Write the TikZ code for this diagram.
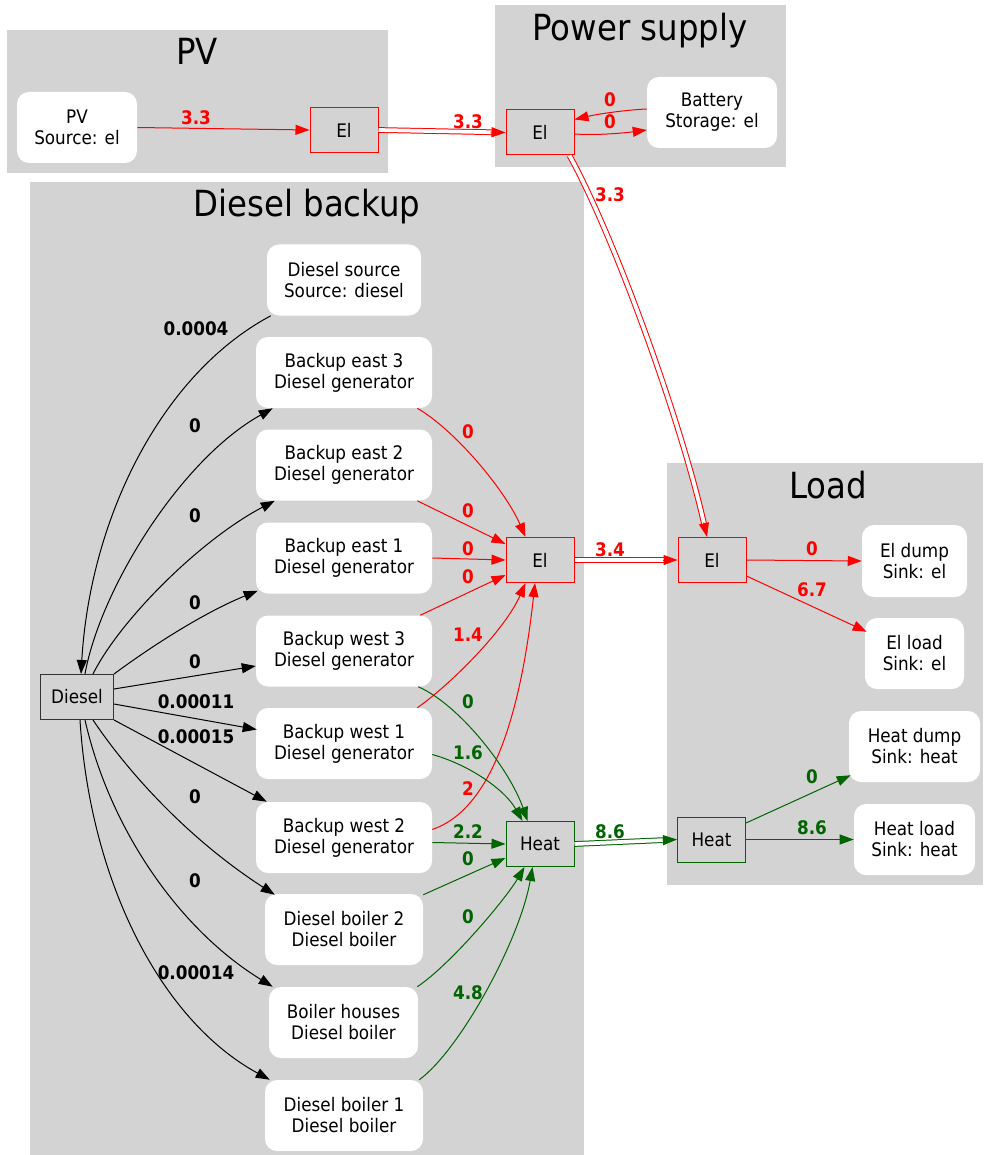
\documentclass[tikz,border=0pt]{standalone}
\usepackage{fontspec}
\setmainfont{DejaVu Sans Condensed}
\usetikzlibrary{arrows.meta,calc}
\definecolor{clustergray}{HTML}{D3D3D3}
\definecolor{heatgreen}{HTML}{006400}
\definecolor{elred}{HTML}{FF0000}

\begin{document}
\begin{tikzpicture}[x=0.75pt,y=-0.75pt,
  ctitle/.style={font=\fontsize{27}{30}\selectfont, inner sep=0pt, anchor=base},
  proc/.style={fill=white, rounded corners=9pt, align=center, inner sep=0pt,
    minimum height=53.25pt, minimum width=#1*0.75pt,
    font=\fontsize{14}{15.75}\selectfont},
  bus/.style={draw=#1, fill=clustergray, line width=0.75pt, inner sep=0pt,
    minimum width=51pt, minimum height=33.75pt, font=\fontsize{14}{16}\selectfont},
  flow/.style={draw=#1, line width=0.75pt, -{Triangle[length=10.5pt,width=7.5pt]}},
  dbl/.style={draw=#1, line width=0.75pt, double=white, double distance=2.8pt,
    shorten >=9.8pt},
  val/.style={text=#1, font=\fontsize{14}{16}\selectfont\bfseries, inner sep=0pt},
]
\useasboundingbox (0,0) rectangle (983,1155);

% cluster backgrounds
\fill[clustergray] (7,30) rectangle (388,173);
\fill[clustergray] (495,5) rectangle (786,167);
\fill[clustergray] (30,182) rectangle (584,1155);
\fill[clustergray] (667,463) rectangle (983,885);

\node[ctitle] (tpv) at (197,65) {PV};
\node[ctitle] (tps) at (640,41) {Power supply};
\node[ctitle] (tdb) at (307,217) {Diesel backup};
\node[ctitle] (tld) at (828,498) {Load};

% PV and power supply
\node[proc=120] (pvsrc) at (77,127.5) {PV\\Source: el};
\node[bus=elred] (pvel) at (344,130) {El};
\node[bus=elred] (psel) at (540,132.5) {El};
\node[proc=130] (bat) at (712,112.5) {Battery\\Storage: el};

% diesel backup
\node[proc=154] (dsrc) at (344,280) {Diesel source\\Source: diesel};
\node[proc=176] (be3) at (344,372.5) {Backup east 3\\Diesel generator};
\node[proc=176] (be2) at (344,465) {Backup east 2\\Diesel generator};
\node[proc=176] (be1) at (344,558) {Backup east 1\\Diesel generator};
\node[proc=176] (bw3) at (344,651) {Backup west 3\\Diesel generator};
\node[proc=176] (bw1) at (344,743.5) {Backup west 1\\Diesel generator};
\node[proc=176] (bw2) at (344,837.5) {Backup west 2\\Diesel generator};
\node[proc=158] (db2) at (344,929.5) {Diesel boiler 2\\Diesel boiler};
\node[proc=149] (bh) at (343.5,1022.5) {Boiler houses\\Diesel boiler};
\node[proc=158] (db1) at (344,1115.5) {Diesel boiler 1\\Diesel boiler};
\node[bus=black!80, minimum width=54.75pt] (diesel) at (77,697) {Diesel};
\node[bus=elred] (dbel) at (540,560) {El};
\node[bus=heatgreen] (heat) at (540,844) {Heat};

% load
\node[bus=elred] (ldel) at (712,560) {El};
\node[bus=heatgreen] (ldheat) at (711.5,839.5) {Heat};
\node[proc=105, minimum height=54pt] (eldump) at (914.5,561) {El dump\\Sink: el};
\node[proc=99] (elload) at (914.5,653.5) {El load\\Sink: el};
\node[proc=131] (hdump) at (914.5,746.5) {Heat dump\\Sink: heat};
\node[proc=121] (hload) at (914.5,839.5) {Heat load\\Sink: heat};

% electricity flows in PV and power supply
\draw[flow=elred] (pvsrc.east) -- (pvel.west);
\draw[dbl=elred] (pvel.east) -- (psel.west);
\draw[flow=elred] ($(pvel.east)!0.88!(psel.west)$) -- (psel.west);
\draw[flow=elred] ($(bat.west)+(0,-3.5)$) .. controls (625,110) and (598,114) .. ($(psel.north east)+(0,10)$);
\draw[flow=elred] ($(psel.east)+(0,1.5)$) .. controls (598,135.5) and (624,133) .. ($(bat.west)+(0,17.5)$);
\draw[dbl=elred] ($(psel.south east)+(-5,0)$) .. controls (614,236) and (681,421) .. ($(ldel.north)+(-5,0)$);
\draw[flow=elred] ($(ldel.north)+(-8.3,-14.6)$) -- ($(ldel.north)+(-5,0)$);

% diesel distribution
\draw[flow=black] ($(dsrc.south west)+(4,0)$) .. controls (160,375) and (90,520) .. ($(diesel.north)+(4,0)$);
\draw[flow=black] ($(diesel.north)+(8,0)$) .. controls (100,590) and (180,460) .. ($(be3.south west)+(17,0)$);
\draw[flow=black] ($(diesel.north)+(16,0)$) .. controls (120,620) and (200,540) .. ($(be2.south west)+(19,0)$);
\draw[flow=black] (diesel.north east) .. controls (160,640) and (210,610) .. ($(be1.south west)+(2,-3)$);
\draw[flow=black] ($(diesel.east)+(0,-8)$) -- ($(bw3.west)+(0,15)$);
\draw[flow=black] ($(diesel.east)+(0,7)$) -- ($(bw1.west)+(1,-14)$);
\draw[flow=black] (diesel.south east) -- ($(bw2.north west)+(11,0)$);
\draw[flow=black] ($(diesel.south)+(16,0)$) .. controls (130,775) and (190,840) .. ($(db2.north west)+(10,1)$);
\draw[flow=black] ($(diesel.south)+(8,0)$) .. controls (110,830) and (180,930) .. ($(bh.north west)+(4,0)$);
\draw[flow=black] ($(diesel.south)+(3,0)$) .. controls (90,880) and (160,1020) .. ($(db1.north west)+(5,0)$);

% electricity from the generators
\draw[flow=elred] ($(be3.south east)+(-15,0)$) .. controls (455,430) and (505,490) .. ($(dbel.north west)+(20,0)$);
\draw[flow=elred] ($(be2.south east)+(-15,0)$) -- ($(dbel.west)+(0,-16)$);
\draw[flow=elred] (be1.east) -- (dbel.west);
\draw[flow=elred] ($(bw3.north east)+(-12,0)$) -- ($(dbel.west)+(0,15)$);
\draw[flow=elred] ($(bw1.north east)+(-15,0)$) .. controls (450,685) and (505,630) .. ($(dbel.south west)+(20,0)$);
\draw[flow=elred] ($(bw2.east)+(0,-8)$) .. controls (490,810) and (520,720) .. ($(dbel.south)+(-5,0)$);

% heat from generators and boilers
\draw[flow=heatgreen] ($(bw3.south east)+(-14,0)$) .. controls (460,705) and (510,770) .. ($(heat.north west)+(22,0)$);
\draw[flow=heatgreen] ($(bw1.east)+(0,11)$) .. controls (470,765) and (505,790) .. ($(heat.north west)+(17,0)$);
\draw[flow=heatgreen] ($(bw2.east)+(0,5)$) -- (heat.west);
\draw[flow=heatgreen] ($(db2.north east)+(0,1)$) -- ($(heat.west)+(0,14)$);
\draw[flow=heatgreen] ($(bh.north east)+(-1,0)$) .. controls (450,965) and (505,900) .. ($(heat.south west)+(19,0)$);
\draw[flow=heatgreen] ($(db1.north east)+(-4,0)$) .. controls (460,1050) and (520,940) .. ($(heat.south west)+(27,0)$);

% transfer to the load
\draw[dbl=elred] (dbel.east) -- (ldel.west);
\draw[flow=elred] ($(dbel.east)!0.86!(ldel.west)$) -- (ldel.west);
\draw[dbl=heatgreen] (heat.east) -- (ldheat.west);
\draw[flow=heatgreen] ($(heat.east)!0.86!(ldheat.west)$) -- (ldheat.west);

% load sinks
\draw[flow=elred] (ldel.east) -- (eldump.west);
\draw[flow=elred] ($(ldel.east)+(0,16)$) -- ($(elload.north west)+(2,14)$);
\draw[flow=heatgreen] ($(ldheat.east)+(0,-16.5)$) -- ($(hdump.south west)+(2,-7)$);
\draw[flow=heatgreen] (ldheat.east) -- (hload.west);

% flow values
\node[val=black] (v1) at (196,329) {0.0004};
\node[val=black] (v2) at (195,426) {0};
\node[val=black] (v3) at (195,516) {0};
\node[val=black] (v4) at (195,603) {0};
\node[val=black] (v5) at (195,662) {0};
\node[val=black] (v6) at (196,702) {0.00011};
\node[val=black] (v7) at (196,737) {0.00015};
\node[val=black] (v8) at (195,797) {0};
\node[val=black] (v9) at (195,881) {0};
\node[val=black] (v10) at (196,973) {0.00014};

\node[val=elred] (r1) at (196,118) {3.3};
\node[val=elred] (r2) at (468,122) {3.3};
\node[val=elred] (r3) at (610,100) {0};
\node[val=elred] (r4) at (610,122) {0};
\node[val=elred] (r5) at (610,195) {3.3};
\node[val=elred] (r6) at (468,432) {0};
\node[val=elred] (r7) at (468,511) {0};
\node[val=elred] (r8) at (468,549) {0};
\node[val=elred] (r9) at (468,577) {0};
\node[val=elred] (r10) at (468,635) {1.4};
\node[val=elred] (r11) at (468,789) {2};
\node[val=elred] (r12) at (610,550) {3.4};
\node[val=elred] (r13) at (812,549) {0};
\node[val=elred] (r14) at (812,590) {6.7};

\node[val=heatgreen] (g1) at (468,702) {0};
\node[val=heatgreen] (g2) at (468,753) {1.6};
\node[val=heatgreen] (g3) at (468,832) {2.2};
\node[val=heatgreen] (g4) at (468,859) {0};
\node[val=heatgreen] (g5) at (468,917) {0};
\node[val=heatgreen] (g6) at (468,993) {4.8};
\node[val=heatgreen] (g7) at (610,832) {8.6};
\node[val=heatgreen] (g8) at (812,777) {0};
\node[val=heatgreen] (g9) at (812,828) {8.6};
\end{tikzpicture}
\end{document}
